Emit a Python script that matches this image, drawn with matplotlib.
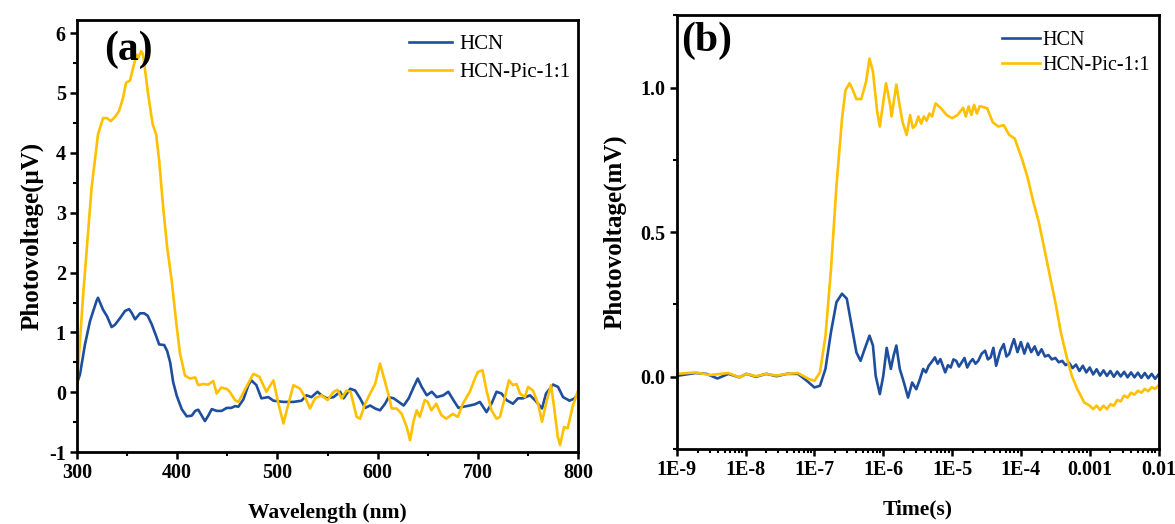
import numpy as np
import matplotlib
matplotlib.use("Agg")
import matplotlib.pyplot as plt
from matplotlib.ticker import MultipleLocator, FixedLocator, LogLocator, NullFormatter

plt.rcParams['font.family'] = ['Liberation Serif', 'DejaVu Serif']
plt.rcParams['font.weight'] = 'bold'
plt.rcParams['axes.unicode_minus'] = False

BLUE = '#1f4e9e'
YELLOW = '#ffc000'

# ---- Panel (a): SPV spectra ----
wl_hcn = [300, 303, 308, 313, 319.6, 321, 326, 330, 334.6, 338, 343, 348, 352, 354.5, 358, 363, 367,
          370.5, 374.5, 379, 382, 387, 390, 393, 396, 399.6, 404.5, 409.5, 414.5, 418, 421, 424.5,
          427.7, 431, 434.5, 439.4, 444.4, 449.4, 454, 457.7, 461, 466, 471, 474, 479, 484, 491, 496,
          506, 516, 524, 529, 534, 540, 544, 549, 556, 562.5, 566, 572.6, 577.6, 582.5, 587.5, 592.5,
          597.5, 602.4, 607.4, 611, 616, 621, 626, 631, 636, 640, 644, 649, 654, 659, 665.5, 670.5,
          675.6, 680.6, 685.6, 692, 697, 702, 708.6, 713.6, 718.6, 723.6, 728.6, 735, 740, 745, 752,
          757, 764, 768, 775, 780, 785, 791.5, 796.5, 800]
v_hcn = [0.15, 0.3, 0.8, 1.19, 1.53, 1.58, 1.38, 1.27, 1.09, 1.13, 1.24, 1.36, 1.39, 1.33, 1.22, 1.32,
         1.32, 1.28, 1.14, 0.94, 0.8, 0.79, 0.69, 0.5, 0.17, -0.06, -0.28, -0.4, -0.39, -0.31, -0.29,
         -0.39, -0.48, -0.39, -0.28, -0.31, -0.31, -0.26, -0.26, -0.23, -0.24, -0.12, 0.12, 0.2, 0.12,
         -0.1, -0.08, -0.14, -0.16, -0.16, -0.14, -0.05, -0.08, 0.01, -0.05, -0.1, -0.08, 0.01, -0.1,
         0.06, 0.03, -0.1, -0.26, -0.22, -0.27, -0.3, -0.19, -0.08, -0.1, -0.16, -0.22, -0.1, 0.09,
         0.23, 0.09, -0.05, 0.01, -0.08, -0.05, 0.01, -0.13, -0.26, -0.24, -0.22, -0.2, -0.16, -0.33,
         -0.19, 0.01, -0.02, -0.13, -0.19, -0.1, -0.1, -0.05, -0.13, -0.27, -0.02, 0.13, 0.09, -0.08,
         -0.14, -0.1, -0.02]

wl_pic = [300, 306, 314.6, 321, 326, 330, 333.6, 338, 342, 346, 349, 353, 356, 359.6, 361, 364, 366,
          371, 375.5, 379, 382, 386, 390, 394.5, 398.8, 402.8, 407.8, 412.8, 418, 421, 426, 431, 436,
          439.4, 444, 449, 452, 457.7, 461, 464, 469, 476, 482, 489, 496, 501, 506, 511, 516, 522.6,
          527.5, 532.5, 537.5, 544, 550, 556, 560, 564, 569, 573, 579, 582.5, 587.5, 592.5, 597.5,
          602.4, 606, 611, 614, 619, 624, 629, 632.3, 636, 639, 642, 647, 650, 653.6, 658.5, 663.5,
          668.5, 675, 680, 685, 692, 697, 700, 704.6, 708.6, 713.6, 718.6, 722, 727, 731, 735, 738.6,
          742, 747, 750, 755, 760, 764, 768, 773, 776, 779.7, 782, 786, 789.6, 794.5, 799.5]
v_pic = [0.12, 1.59, 3.42, 4.31, 4.58, 4.58, 4.53, 4.6, 4.7, 4.92, 5.17, 5.21, 5.42, 5.64, 5.58, 5.7,
         5.64, 4.98, 4.48, 4.31, 3.87, 3.09, 2.42, 1.87, 1.2, 0.65, 0.28, 0.23, 0.25, 0.12, 0.14, 0.13,
         0.19, -0.02, 0.08, 0.06, 0.02, -0.13, -0.16, -0.07, 0.09, 0.31, 0.26, 0.01, 0.2, -0.19, -0.52,
         -0.19, 0.12, 0.06, -0.08, -0.27, -0.1, -0.05, -0.13, 0.01, 0.04, -0.1, 0.03, 0.01, -0.41,
         -0.44, -0.19, -0.02, 0.14, 0.48, 0.26, -0.05, -0.27, -0.27, -0.36, -0.58, -0.8, -0.47, -0.3,
         -0.41, -0.13, -0.16, -0.3, -0.19, -0.38, -0.44, -0.36, -0.41, -0.19, 0.01, 0.23, 0.34, 0.37,
         0.03, -0.3, -0.44, -0.41, -0.08, 0.2, 0.12, 0.14, -0.02, -0.08, 0.09, 0.03, -0.19, -0.49,
         -0.19, 0.12, -0.24, -0.74, -0.88, -0.58, -0.6, -0.24, 0.01]

# ---- Panel (b): transient photovoltage (log10 of time in s) ----
lt_hcn = [-9.0, -8.73, -8.57, -8.41, -8.25, -8.09, -7.99, -7.85, -7.7, -7.55,
          -7.4, -7.24, -7.11, -7.0, -6.92, -6.84, -6.76, -6.68, -6.6, -6.53,
          -6.47, -6.39, -6.33, -6.27, -6.2, -6.15, -6.11, -6.05, -6.0, -5.95,
          -5.89, -5.85, -5.81, -5.76, -5.7, -5.64, -5.58, -5.52,
          -5.47, -5.42, -5.38, -5.34, -5.3, -5.25, -5.21, -5.17, -5.1, -5.06,
          -5.02, -4.98, -4.94, -4.9, -4.86, -4.82, -4.78, -4.74, -4.7, -4.66,
          -4.62, -4.57, -4.52, -4.48, -4.44, -4.4, -4.36, -4.3, -4.25, -4.21,
          -4.17, -4.13, -4.1, -4.05,
          -4.0, -3.95, -3.9, -3.85, -3.8, -3.75, -3.7, -3.65, -3.6, -3.55,
          -3.5, -3.45, -3.4, -3.35, -3.3, -3.25, -3.2, -3.15, -3.1, -3.05,
          -3.0, -2.95, -2.9, -2.85, -2.8, -2.75, -2.7, -2.65, -2.6, -2.55,
          -2.5, -2.45, -2.4, -2.35, -2.3, -2.25, -2.2, -2.15, -2.1, -2.05,
          -2.0]
v_bhcn = [0.003, 0.013, 0.01, -0.006, 0.01, -0.002, 0.01, 0.0, 0.01, 0.002,
          0.01, 0.01, -0.014, -0.037, -0.031, 0.027, 0.154, 0.258, 0.287, 0.27,
          0.19, 0.084, 0.055, 0.096, 0.142, 0.108, 0.003, -0.06, 0.003, 0.1,
          0.027, 0.073, 0.108, 0.027, -0.02, -0.072, -0.02, -0.043,
          -0.01, 0.027, 0.015, 0.038, 0.05, 0.067, 0.045, 0.061, 0.015, 0.04,
          0.032, 0.06, 0.055, 0.035, 0.05, 0.065, 0.032, 0.05, 0.061, 0.045,
          0.055, 0.08, 0.09, 0.06, 0.067, 0.1, 0.038, 0.09, 0.113, 0.07,
          0.079, 0.11, 0.13, 0.085,
          0.12, 0.08, 0.115, 0.085, 0.105, 0.075, 0.095, 0.07, 0.075, 0.06,
          0.065, 0.05, 0.055, 0.04, 0.048, 0.03, 0.042, 0.02, 0.038, 0.015,
          0.032, 0.008, 0.026, 0.004, 0.022, 0.003, 0.02, 0.0, 0.018, 0.001,
          0.017, -0.002, 0.015, -0.002, 0.014, -0.004, 0.013, -0.005, 0.01, -0.007,
          0.008]

lt_pic = [-9.0, -8.73, -8.52, -8.25, -8.09, -7.99, -7.85, -7.7, -7.55, -7.4,
          -7.24, -7.08, -7.0, -6.92, -6.84, -6.76, -6.68, -6.6, -6.55, -6.49,
          -6.44, -6.39, -6.32, -6.25, -6.2, -6.15, -6.09, -6.05, -6.0, -5.96,
          -5.9, -5.88, -5.81, -5.77, -5.72, -5.66, -5.61, -5.57, -5.53, -5.49,
          -5.45, -5.41, -5.37, -5.33, -5.29, -5.24, -5.16, -5.08, -5.0, -4.92,
          -4.84, -4.8, -4.76, -4.72, -4.68, -4.64, -4.6, -4.57, -4.49, -4.41,
          -4.33, -4.25, -4.17, -4.09, -4.04, -3.98, -3.9, -3.82, -3.74, -3.66,
          -3.58, -3.5, -3.42, -3.34, -3.26, -3.18, -3.08, -3.0, -2.95, -2.9,
          -2.85, -2.8, -2.75, -2.7, -2.65, -2.6, -2.55, -2.5, -2.45, -2.4,
          -2.35, -2.3, -2.25, -2.2, -2.15, -2.1, -2.05, -2.0]
v_bpic = [0.01, 0.015, 0.006, 0.013, -0.002, 0.01, 0.002, 0.01, 0.004, 0.01,
          0.013, -0.008, -0.014, 0.015, 0.14, 0.37, 0.66, 0.89, 0.99, 1.015,
          0.99, 0.96, 0.96, 1.02, 1.1, 1.055, 0.92, 0.865, 0.95, 1.015,
          0.94, 0.9, 1.01, 0.95, 0.88, 0.836, 0.905, 0.86, 0.87, 0.9,
          0.875, 0.9, 0.885, 0.91, 0.9, 0.945, 0.928, 0.905, 0.894, 0.905,
          0.93, 0.9, 0.935, 0.905, 0.94, 0.91, 0.935, 0.934, 0.928, 0.88,
          0.865, 0.87, 0.836, 0.824, 0.79, 0.75, 0.686, 0.605, 0.535, 0.443,
          0.35, 0.258, 0.154, 0.073, 0.003, -0.043, -0.089, -0.1, -0.112, -0.1,
          -0.115, -0.1, -0.112, -0.095, -0.1, -0.08, -0.085, -0.065, -0.072, -0.055,
          -0.062, -0.048, -0.055, -0.042, -0.05, -0.036, -0.042, -0.03]

labels = ['HCN', 'HCN-Pic-1:1']
xt_b_labels = ['1E-9', '1E-8', '1E-7', '1E-6', '1E-5', '1E-4', '0.001', '0.01']

fig = plt.figure(figsize=(11.75, 5.24), dpi=100)
axa = fig.add_axes([0.0655, 0.137, 0.4265, 0.825])
axb = fig.add_axes([0.576, 0.143, 0.410, 0.828])

def style(ax):
    for s in ax.spines.values():
        s.set_linewidth(2.0)
    ax.tick_params(which='major', direction='out', length=5, width=1.8, labelsize=14.5, pad=3)
    ax.tick_params(which='minor', direction='out', length=3, width=1.5)
    for lab in ax.get_xticklabels() + ax.get_yticklabels():
        lab.set_fontweight('bold')

LW = 1.9

# Panel a
axa.plot(wl_hcn, v_hcn, color=BLUE, lw=LW, label=labels[0])
axa.plot(wl_pic, v_pic, color=YELLOW, lw=LW, label=labels[1])
axa.set_xlim(300, 800)
axa.set_ylim(-1, 6.22)
axa.xaxis.set_major_locator(MultipleLocator(100))
axa.xaxis.set_minor_locator(MultipleLocator(50))
axa.yaxis.set_major_locator(MultipleLocator(1))
axa.yaxis.set_minor_locator(MultipleLocator(0.5))
style(axa)
axa.set_xlabel('Wavelength (nm)', fontsize=15.5, fontweight='bold', labelpad=14)
axa.set_ylabel('Photovoltage(\u03bcV)', fontsize=18, fontweight='bold', labelpad=4)
axa.text(0.055, 0.975, '(a)', transform=axa.transAxes, fontsize=30, fontweight='bold',
         va='top', ha='left')
leg = axa.legend(loc='upper left', frameon=False, fontsize=15, handlelength=2.1,
                 bbox_to_anchor=(0.662, 0.966), borderpad=0, borderaxespad=0,
                 labelspacing=0.4, handletextpad=0.35)
for t in leg.get_texts():
    t.set_fontweight('normal')

# Panel b
tb_hcn = 10.0 ** np.array(lt_hcn)
tb_pic = 10.0 ** np.array(lt_pic)
axb.plot(tb_hcn, v_bhcn, color=BLUE, lw=LW, label=labels[0])
axb.plot(tb_pic, v_bpic, color=YELLOW, lw=LW, label=labels[1])
axb.set_xscale('log')
axb.set_xlim(1e-9, 1e-2)
axb.set_ylim(-0.25, 1.25)
axb.xaxis.set_major_locator(FixedLocator([1e-9, 1e-8, 1e-7, 1e-6, 1e-5, 1e-4, 1e-3, 1e-2]))
axb.set_xticklabels(xt_b_labels)
axb.xaxis.set_minor_locator(LogLocator(base=10, subs=np.arange(2, 10), numticks=20))
axb.xaxis.set_minor_formatter(NullFormatter())
axb.yaxis.set_major_locator(FixedLocator([0.0, 0.5, 1.0]))
axb.set_yticklabels(['0.0', '0.5', '1.0'])
axb.yaxis.set_minor_locator(MultipleLocator(0.25))
style(axb)
axb.set_xlabel('Time(s)', fontsize=15.5, fontweight='bold', labelpad=14)
axb.set_ylabel('Photovoltage(mV)', fontsize=18, fontweight='bold', labelpad=10)
axb.text(0.008, 0.985, '(b)', transform=axb.transAxes, fontsize=30, fontweight='bold',
         va='top', ha='left')
legb = axb.legend(loc='upper left', frameon=False, fontsize=14.5, handlelength=1.85,
                  bbox_to_anchor=(0.676, 0.964), borderpad=0, borderaxespad=0,
                  labelspacing=0.3, handletextpad=0.15)
for t in legb.get_texts():
    t.set_fontweight('normal')

fig.savefig('out.png', dpi=100)
